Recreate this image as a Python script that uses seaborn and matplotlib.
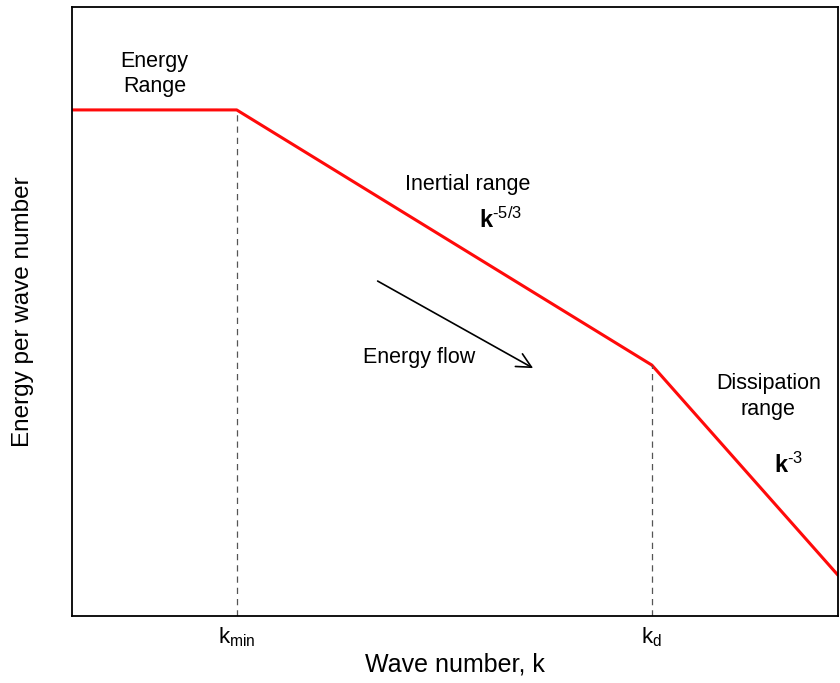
import matplotlib
matplotlib.use("Agg")
import matplotlib.pyplot as plt
import seaborn as sns
import pandas as pd

# Piecewise spectrum: flat energy range, k^-5/3 inertial range, k^-3 dissipation range
wave_number = [0.0, 21.5, 75.7, 100.0]
energy = [83.1, 83.1, 41.2, 6.7]

# Characteristic wave numbers marked on the x axis
tick_positions = [21.5, 75.7]
tick_labels = [r"$\mathrm{k_{min}}$", r"$\mathrm{k_{d}}$"]

sns.set_theme(style="white")
plt.rcParams["font.family"] = ["Liberation Sans", "DejaVu Sans"]
plt.rcParams["mathtext.fontset"] = "custom"
plt.rcParams["mathtext.rm"] = "Liberation Sans"
plt.rcParams["mathtext.it"] = "Liberation Sans:italic"
plt.rcParams["mathtext.bf"] = "Liberation Sans:bold"
for key in ("text.color", "axes.labelcolor", "xtick.color", "ytick.color"):
    plt.rcParams[key] = "black"

df = pd.DataFrame({"k": wave_number, "E": energy})

fig = plt.figure(figsize=(8.4, 6.83), dpi=100)
ax = fig.add_axes([72 / 840, 1 - 616 / 683, 766 / 840, 609 / 683])

sns.lineplot(data=df, x="k", y="E", ax=ax, color="#ff0a0a", linewidth=2.2)

# Dashed guides from the break points down to the axis
for i in (1, 2):
    ax.plot([wave_number[i], wave_number[i]], [0, energy[i]],
            color="#555555", linestyle=(0, (5, 4)), linewidth=0.9)

ax.set_xlim(0, 100)
ax.set_ylim(0, 100)
ax.set_xticks(tick_positions)
ax.set_xticklabels(tick_labels, fontsize=16)
ax.set_yticks([])
ax.tick_params(axis="x", length=0, pad=7)
ax.set_xlabel("Wave number, k", fontsize=18, labelpad=2)
ax.set_ylabel("Energy per wave number", fontsize=17.5, labelpad=27)

for side in ("left", "right", "top", "bottom"):
    ax.spines[side].set_color("black")
    ax.spines[side].set_linewidth(1.3)

ax.text(10.8, 89.0, "Energy\nRange", ha="center", va="center", fontsize=15.5,
        linespacing=1.3)
ax.text(51.6, 70.8, "Inertial range", ha="center", va="center", fontsize=15.5)
ax.text(55.9, 65.0, r"$\mathbf{k}^{\text{-5/3}}$", ha="center", va="center",
        fontsize=17)
ax.text(45.3, 42.5, "Energy flow", ha="center", va="center", fontsize=15.5)
ax.text(90.9, 36.0, "Dissipation\nrange", ha="center", va="center",
        fontsize=15.5, linespacing=1.3)
ax.text(93.6, 24.8, r"$\mathbf{k}^{\text{-3}}$", ha="center", va="center",
        fontsize=17)

ax.annotate("", xy=(60.2, 40.7), xytext=(39.9, 55.0),
            arrowprops=dict(arrowstyle="->", color="black", lw=1.2,
                            mutation_scale=26, shrinkA=0, shrinkB=0))

fig.savefig("out.png", dpi=100)
